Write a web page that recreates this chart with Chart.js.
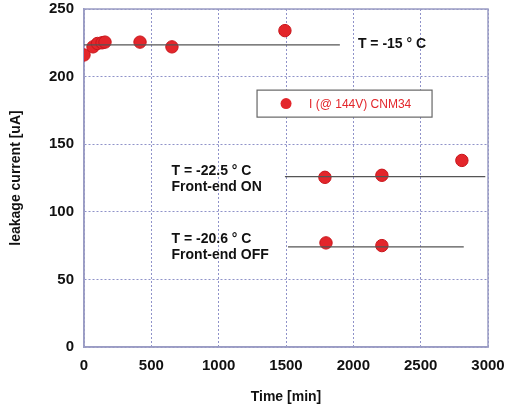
<!DOCTYPE html>
<html>
<head>
<meta charset="utf-8">
<script src="https://cdn.jsdelivr.net/npm/chart.js@4/dist/chart.umd.min.js"></script>
<style>
  html, body { margin: 0; padding: 0; background: #fff; }
  #wrap { width: 507px; height: 410px; }
</style>
</head>
<body>
<div id="wrap"><canvas id="leakChart" width="507" height="410"></canvas></div>
<script>
// measured points: time [min] / leakage current [uA]
const timeMin = [0, 67, 100, 134, 156, 416, 653, 1492, 1789, 2212, 2806, 1797, 2212];
const leakUA  = [216, 222, 224.5, 225, 225.5, 225.5, 222, 234, 125.5, 127, 138, 77, 75];

// reference level lines drawn on the plot
const lineM15x  = [0, 1900];
const lineM15y  = [223.5, 223.5];
const lineOnX   = [1492, 2980];
const lineOnY   = [126, 126];
const lineOffX  = [1515, 2820];
const lineOffY  = [74, 74];

// annotation texts (first line anchored at data coords)
const noteText = [['T = -15 ° C'], ['T = -22.5 ° C', 'Front-end ON'], ['T = -20.6 ° C', 'Front-end OFF']];
const noteX = [2034, 650, 650];
const noteY = [224, 130, 79.5];

const legendLabel = 'I (@ 144V) CNM34';
const xTicks = [0, 500, 1000, 1500, 2000, 2500, 3000];
const yTicks = [0, 50, 100, 150, 200, 250];

const RED = '#e3262b';
const GRID = '#8f92c9';
const FONT = '"Liberation Sans", Arial, sans-serif';

const pts = (xs, ys) => xs.map((x, i) => ({ x: x, y: ys[i] }));
const refLine = (xs, ys) => ({
  type: 'line', data: pts(xs, ys), borderColor: '#555', borderWidth: 1.3,
  pointRadius: 0, showLine: true, fill: false
});

const extras = {
  id: 'extras',
  beforeDatasetsDraw(chart) {
    // solid frame round the plot area
    const ctx = chart.ctx, a = chart.chartArea;
    ctx.save();
    ctx.strokeStyle = '#9a9cc4';
    ctx.lineWidth = 1.5;
    ctx.strokeRect(a.left, a.top, a.right - a.left, a.bottom - a.top);
    ctx.restore();
  },
  afterDatasetsDraw(chart) {
    const ctx = chart.ctx, xs = chart.scales.x, ys = chart.scales.y;
    ctx.save();
    // annotations
    ctx.fillStyle = '#111';
    ctx.font = 'bold 14px ' + FONT;
    ctx.textBaseline = 'middle';
    ctx.textAlign = 'left';
    noteText.forEach((lines, i) => {
      const px = xs.getPixelForValue(noteX[i]);
      const py = ys.getPixelForValue(noteY[i]);
      lines.forEach((t, j) => ctx.fillText(t, px, py + j * 16));
    });
    // legend box
    const bx = xs.getPixelForValue(1285), by = ys.getPixelForValue(190);
    const bw = 175, bh = 27;
    ctx.fillStyle = '#fff';
    ctx.fillRect(bx, by, bw, bh);
    ctx.strokeStyle = '#666';
    ctx.lineWidth = 1.2;
    ctx.strokeRect(bx, by, bw, bh);
    ctx.fillStyle = RED;
    ctx.beginPath();
    ctx.arc(bx + 29, by + bh / 2, 5.5, 0, Math.PI * 2);
    ctx.fill();
    ctx.font = '12px ' + FONT;
    ctx.fillText(legendLabel, bx + 52, by + bh / 2 + 1);
    ctx.restore();
  }
};

new Chart(document.getElementById('leakChart').getContext('2d'), {
  type: 'scatter',
  data: {
    datasets: [
      refLine(lineM15x, lineM15y),
      refLine(lineOnX, lineOnY),
      refLine(lineOffX, lineOffY),
      {
        label: legendLabel,
        data: pts(timeMin, leakUA),
        backgroundColor: RED,
        borderColor: '#c8151b',
        borderWidth: 1,
        pointRadius: 6.2
      }
    ]
  },
  options: {
    responsive: false,
    animation: false,
    layout: { padding: 0 },
    plugins: { legend: { display: false }, tooltip: { enabled: false } },
    scales: {
      x: {
        type: 'linear', min: 0, max: 3000,
        afterBuildTicks: s => { s.ticks = xTicks.map(v => ({ value: v })); },
        afterFit: s => { s.height = 63; s.paddingLeft = 0; s.paddingRight = 19; },
        grid: { color: GRID, lineWidth: 1, drawTicks: false },
        border: { color: '#9a9cc4', width: 1.5, dash: [2, 2] },
        ticks: { color: '#111', padding: 10, callback: v => String(v),
                 font: { family: FONT, size: 15, weight: 'bold' } },
        title: { display: true, text: 'Time [min]', color: '#111', padding: { top: 8 },
                 font: { family: FONT, size: 14, weight: 'bold' } }
      },
      y: {
        type: 'linear', min: 0, max: 250,
        afterBuildTicks: s => { s.ticks = yTicks.map(v => ({ value: v })); },
        afterFit: s => { s.width = 84; s.paddingTop = 9; s.paddingBottom = 0; },
        grid: { color: GRID, lineWidth: 1, drawTicks: false },
        border: { color: '#9a9cc4', width: 1.5, dash: [2, 2] },
        ticks: { color: '#111', padding: 10, callback: v => String(v),
                 font: { family: FONT, size: 15, weight: 'bold' } },
        title: { display: true, text: 'leakage current [uA]', color: '#111', padding: { top: 8, bottom: 6 },
                 font: { family: FONT, size: 14, weight: 'bold' } }
      }
    }
  },
  plugins: [extras]
});
</script>
</body>
</html>
